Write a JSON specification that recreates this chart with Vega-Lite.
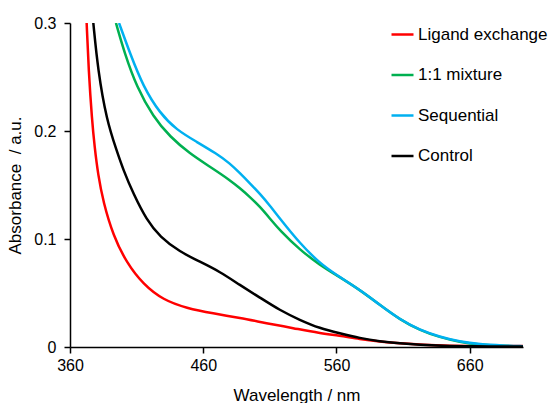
{
  "$schema": "https://vega.github.io/schema/vega-lite/v6.json",
  "width": 453,
  "height": 324,
  "autosize": "none",
  "padding": {"left": 70, "top": 23, "right": 29, "bottom": 56},
  "background": "white",
  "config": {
    "view": {"stroke": null},
    "font": "Liberation Sans",
    "axis": {"grid": false, "domainColor": "black", "domainWidth": 1.5, "tickColor": "black", "tickWidth": 1.5, "tickSize": 6, "labelColor": "black", "titleColor": "black", "labelFont": "Liberation Sans", "titleFont": "Liberation Sans", "labelFontSize": 16, "titleFontSize": 17, "titleFontWeight": "normal", "labelFlush": false}
  },
  "data": {"values": [
    {"s": "Ligand exchange", "w": 372.5, "a": 0.300},
    {"s": "Ligand exchange", "w": 374, "a": 0.256},
    {"s": "Ligand exchange", "w": 376.5, "a": 0.210},
    {"s": "Ligand exchange", "w": 378.5, "a": 0.185},
    {"s": "Ligand exchange", "w": 381, "a": 0.160},
    {"s": "Ligand exchange", "w": 385, "a": 0.134},
    {"s": "Ligand exchange", "w": 392.5, "a": 0.103},
    {"s": "Ligand exchange", "w": 402.5, "a": 0.078},
    {"s": "Ligand exchange", "w": 415, "a": 0.058},
    {"s": "Ligand exchange", "w": 430, "a": 0.0435},
    {"s": "Ligand exchange", "w": 447.5, "a": 0.036},
    {"s": "Ligand exchange", "w": 467.5, "a": 0.031},
    {"s": "Ligand exchange", "w": 487.5, "a": 0.027},
    {"s": "Ligand exchange", "w": 507.5, "a": 0.022},
    {"s": "Ligand exchange", "w": 527.5, "a": 0.0175},
    {"s": "Ligand exchange", "w": 547.5, "a": 0.0127},
    {"s": "Ligand exchange", "w": 562, "a": 0.0105},
    {"s": "Ligand exchange", "w": 577.5, "a": 0.0072},
    {"s": "Ligand exchange", "w": 592.5, "a": 0.005},
    {"s": "Ligand exchange", "w": 607.5, "a": 0.0034},
    {"s": "Ligand exchange", "w": 625, "a": 0.002},
    {"s": "Ligand exchange", "w": 645, "a": 0.0012},
    {"s": "Ligand exchange", "w": 665, "a": 0.0008},
    {"s": "Ligand exchange", "w": 685, "a": 0.0008},
    {"s": "Ligand exchange", "w": 700, "a": 0.001},
    {"s": "1:1 mixture", "w": 394.5, "a": 0.300},
    {"s": "1:1 mixture", "w": 401, "a": 0.272},
    {"s": "1:1 mixture", "w": 410, "a": 0.241},
    {"s": "1:1 mixture", "w": 422.5, "a": 0.213},
    {"s": "1:1 mixture", "w": 435, "a": 0.1947},
    {"s": "1:1 mixture", "w": 450, "a": 0.179},
    {"s": "1:1 mixture", "w": 465, "a": 0.167},
    {"s": "1:1 mixture", "w": 480, "a": 0.1546},
    {"s": "1:1 mixture", "w": 487.5, "a": 0.147},
    {"s": "1:1 mixture", "w": 495, "a": 0.139},
    {"s": "1:1 mixture", "w": 502.5, "a": 0.130},
    {"s": "1:1 mixture", "w": 510, "a": 0.119},
    {"s": "1:1 mixture", "w": 517.5, "a": 0.108},
    {"s": "1:1 mixture", "w": 532.5, "a": 0.090},
    {"s": "1:1 mixture", "w": 547.5, "a": 0.076},
    {"s": "1:1 mixture", "w": 560, "a": 0.0665},
    {"s": "1:1 mixture", "w": 577.5, "a": 0.053},
    {"s": "1:1 mixture", "w": 592.5, "a": 0.039},
    {"s": "1:1 mixture", "w": 607.5, "a": 0.0255},
    {"s": "1:1 mixture", "w": 622.5, "a": 0.0155},
    {"s": "1:1 mixture", "w": 637.5, "a": 0.009},
    {"s": "1:1 mixture", "w": 652.5, "a": 0.0045},
    {"s": "1:1 mixture", "w": 667.5, "a": 0.002},
    {"s": "1:1 mixture", "w": 685, "a": 0.001},
    {"s": "1:1 mixture", "w": 700, "a": 0.0006},
    {"s": "Sequential", "w": 396.8, "a": 0.300},
    {"s": "Sequential", "w": 405, "a": 0.272},
    {"s": "Sequential", "w": 415, "a": 0.241},
    {"s": "Sequential", "w": 427.5, "a": 0.2164},
    {"s": "Sequential", "w": 440, "a": 0.201},
    {"s": "Sequential", "w": 455, "a": 0.190},
    {"s": "Sequential", "w": 470, "a": 0.179},
    {"s": "Sequential", "w": 480, "a": 0.170},
    {"s": "Sequential", "w": 487.5, "a": 0.161},
    {"s": "Sequential", "w": 495, "a": 0.1516},
    {"s": "Sequential", "w": 502.5, "a": 0.142},
    {"s": "Sequential", "w": 510, "a": 0.131},
    {"s": "Sequential", "w": 517.5, "a": 0.119},
    {"s": "Sequential", "w": 532.5, "a": 0.096},
    {"s": "Sequential", "w": 547.5, "a": 0.0775},
    {"s": "Sequential", "w": 560, "a": 0.0667},
    {"s": "Sequential", "w": 577.5, "a": 0.053},
    {"s": "Sequential", "w": 592.5, "a": 0.039},
    {"s": "Sequential", "w": 607.5, "a": 0.0255},
    {"s": "Sequential", "w": 622.5, "a": 0.0157},
    {"s": "Sequential", "w": 637.5, "a": 0.0095},
    {"s": "Sequential", "w": 652.5, "a": 0.005},
    {"s": "Sequential", "w": 667.5, "a": 0.0025},
    {"s": "Sequential", "w": 685, "a": 0.0013},
    {"s": "Sequential", "w": 700, "a": 0.0008},
    {"s": "Control", "w": 377.5, "a": 0.300},
    {"s": "Control", "w": 381, "a": 0.256},
    {"s": "Control", "w": 387.5, "a": 0.210},
    {"s": "Control", "w": 395, "a": 0.182},
    {"s": "Control", "w": 400, "a": 0.164},
    {"s": "Control", "w": 407.5, "a": 0.142},
    {"s": "Control", "w": 417.5, "a": 0.1176},
    {"s": "Control", "w": 427.5, "a": 0.102},
    {"s": "Control", "w": 442.5, "a": 0.088},
    {"s": "Control", "w": 457.5, "a": 0.079},
    {"s": "Control", "w": 472.5, "a": 0.0697},
    {"s": "Control", "w": 487.5, "a": 0.0574},
    {"s": "Control", "w": 502.5, "a": 0.0458},
    {"s": "Control", "w": 517.5, "a": 0.034},
    {"s": "Control", "w": 532.5, "a": 0.025},
    {"s": "Control", "w": 547.5, "a": 0.0173},
    {"s": "Control", "w": 562.5, "a": 0.0127},
    {"s": "Control", "w": 577.5, "a": 0.0082},
    {"s": "Control", "w": 592.5, "a": 0.0052},
    {"s": "Control", "w": 607.5, "a": 0.0034},
    {"s": "Control", "w": 622.5, "a": 0.002},
    {"s": "Control", "w": 640, "a": 0.001},
    {"s": "Control", "w": 660, "a": 0.0006},
    {"s": "Control", "w": 700, "a": 0.0004}
  ]},
  "mark": {"type": "line", "strokeWidth": 2.5, "interpolate": "basis", "clip": true},
  "encoding": {
    "x": {"field": "w", "type": "quantitative", "scale": {"domain": [360, 700], "nice": false, "zero": false},
      "axis": {"values": [360, 460, 560, 660], "title": "Wavelength / nm", "labelPadding": 4, "titlePadding": 14}},
    "y": {"field": "a", "type": "quantitative", "scale": {"domain": [0, 0.3], "nice": false},
      "axis": {"values": [0, 0.1, 0.2, 0.3], "format": ".1~f", "title": "Absorbance\u00a0 / a.u.", "labelPadding": 8, "titlePadding": 9}},
    "color": {"field": "s", "type": "nominal",
      "scale": {"domain": ["Ligand exchange", "1:1 mixture", "Sequential", "Control"], "range": ["#FF0000", "#00B050", "#00B0F0", "#000000"]},
      "legend": {"title": null, "orient": "none", "legendX": 320, "legendY": -1, "padding": 0, "symbolType": "stroke", "symbolSize": 484, "symbolStrokeWidth": 2.5, "labelFontSize": 17, "labelFont": "Liberation Sans", "labelColor": "black", "labelOffset": 3, "rowPadding": 19.5}},
    "order": {"field": "w", "type": "quantitative"}
  }
}
